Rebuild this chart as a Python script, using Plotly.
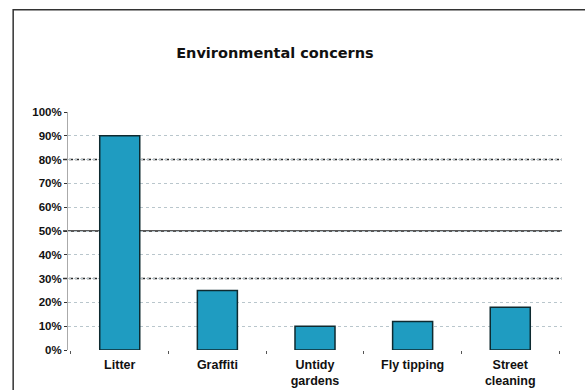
import plotly.graph_objects as go

# Survey results
categories = ["Litter", "Graffiti", "Untidy<br>gardens", "Fly tipping", "Street<br>cleaning"]
percentages = [90, 25, 10, 12, 18]
tick_values = [0, 10, 20, 30, 40, 50, 60, 70, 80, 90, 100]
tick_labels = [f"{v}%" for v in tick_values]

# Gridline styling per level
dark_dotted = [30, 80]
solid_line = [50]

fig = go.Figure()
fig.add_trace(go.Bar(
    x=categories,
    y=percentages,
    width=0.41,
    marker=dict(color="#1f9cc1", line=dict(color="#0e2a30", width=1.5)),
))

shapes = []
# outer chart border
shapes.append(dict(type="rect", xref="paper", yref="paper",
                   x0=-0.111, x1=1.2, y0=-0.5, y1=1.43,
                   line=dict(color="#333333", width=1.5)))
for v in dark_dotted:
    shapes.append(dict(type="line", xref="paper", yref="y", x0=-0.01, x1=1, y0=v, y1=v,
                       line=dict(color="#2a2a2a", width=1.5, dash="4px,2px"), layer="between"))
for v in solid_line:
    shapes.append(dict(type="line", xref="paper", yref="y", x0=-0.01, x1=1, y0=v, y1=v,
                       line=dict(color="#222222", width=1.4), layer="between"))

fig.update_layout(
    width=585, height=390,
    margin=dict(l=68, r=23, t=112, b=40),
    paper_bgcolor="white", plot_bgcolor="white",
    showlegend=False,
    title=dict(text="<b>Environmental concerns</b>", x=0.47, xanchor="center",
               y=0.865, yanchor="middle",
               font=dict(family="DejaVu Sans", size=14.5, color="#111111")),
    font=dict(family="Liberation Sans", color="#111111"),
    shapes=shapes,
)
fig.update_xaxes(
    range=[-0.53, 4.53], showline=False, showgrid=False, automargin=False,
    ticks="outside", tickson="boundaries", ticklen=3, tickcolor="#555555",
    tickfont=dict(size=12.5, family="Liberation Sans", color="#111111"),
    tickprefix="<b>", ticksuffix="</b>", ticklabelstandoff=5,
)
fig.update_yaxes(
    range=[0, 100], tickvals=tick_values, ticktext=[f"<b>{t}</b>" for t in tick_labels],
    tickfont=dict(size=11.5, family="Liberation Sans", color="#111111"),
    showgrid=True, gridcolor="#b9c6cc", griddash="dot", gridwidth=1,
    showline=True, linecolor="#aaaaaa", linewidth=1, automargin=False,
    ticks="outside", ticklen=3, tickcolor="#333333",
    zeroline=False,
)

fig.write_html("out.html")
